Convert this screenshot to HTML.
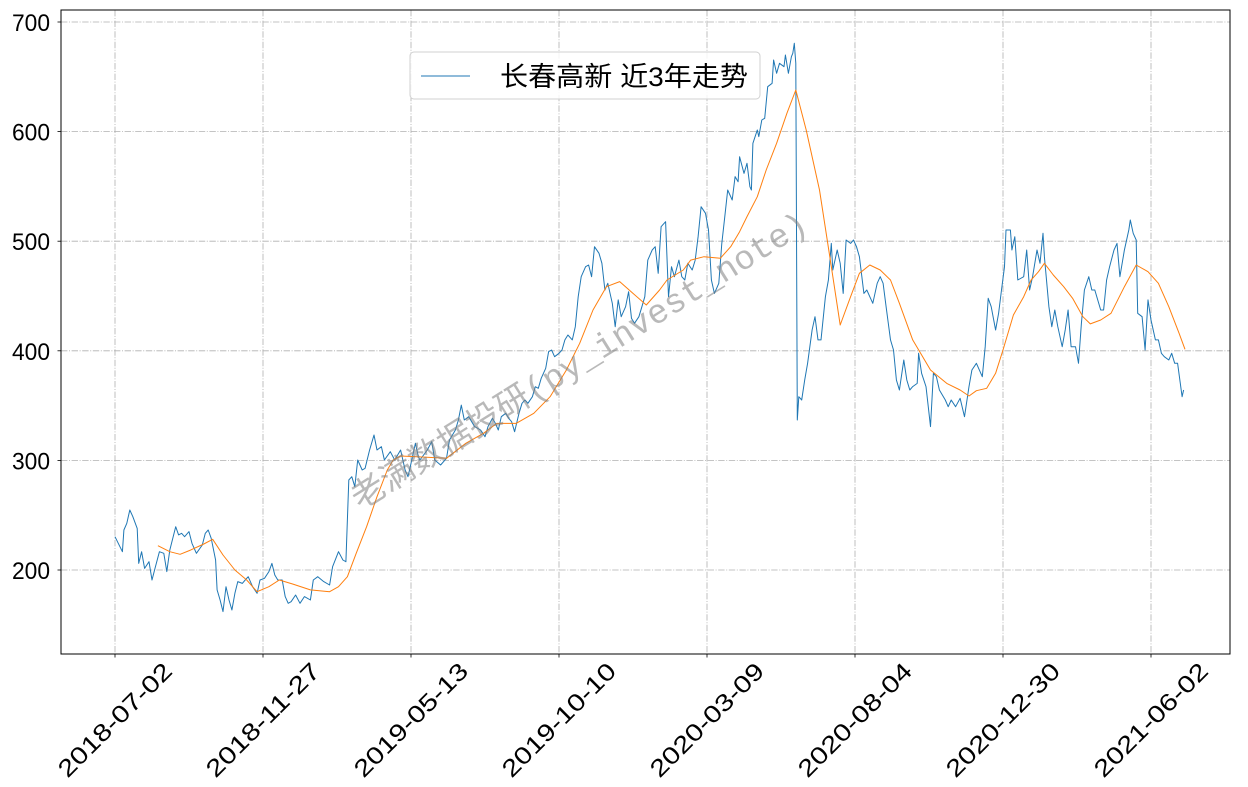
<!DOCTYPE html>
<html><head><meta charset="utf-8">
<style>
html,body{margin:0;padding:0;background:#fff;}
svg{display:block;}
text{font-family:"Liberation Sans","Noto Sans CJK SC",sans-serif;}
</style></head>
<body>
<svg id="chart" width="1248" height="787" viewBox="0 0 1248 787" xmlns="http://www.w3.org/2000/svg">
  <rect x="0" y="0" width="1248" height="787" fill="#fff"/>
  <g id="grid"></g>
  <g id="series"></g>
  <rect x="61" y="10" width="1169" height="644" fill="none" stroke="#000" stroke-width="1"/>
  <g id="axes"></g>
  <text x="585" y="370" transform="rotate(-32 585 370)" text-anchor="middle" font-size="34" fill="#808080" fill-opacity="0.55" style="font-family:'Liberation Mono','Noto Sans CJK SC',monospace">老满数据投研(py_invest_note)</text>
  <g>
    <rect x="410" y="52" width="350" height="47" rx="4" fill="#fff" fill-opacity="0.85" stroke="#d0d0d0"/>
    <line x1="421" y1="76" x2="470" y2="76" stroke="#1f77b4" stroke-width="1"/>
    <text x="500" y="86" font-size="27" textLength="248" lengthAdjust="spacingAndGlyphs" fill="#000">长春高新 近3年走势</text>
  </g>
</svg>
<script>
const priceIdx = [0,5,6,8,10,12,15,16,18,20,23,25,27,30,33,35,37,41,43,45,47,50,52,55,59,61,63,65,68,69,71,73,75,77,79,81,83,86,88,90,93,96,98,101,104,106,108,110,113,115,117,119,122,125,128,132,134,137,141,145,147,151,154,156,158,160,162,164,167,169,172,175,177,180,182,186,189,193,196,198,200,203,205,
206,211,214,216,220,224,226,230,232,234,236,239,241,243,247,250,252,255,257,259,261,264,266,268,270,273,275,277,279,282,284,286,288,291,293,295,297,300,302,304,306,309,311,313,315,318,320,322,324,327,329,331,333,336,338,340,342,345,347,349,351,354,356,358,360,363,365,367,369,372,374,376,378,381,383,385,387,390,392,394,396,399,401,403,405,408,410,412,414,417,419,421,
422,425,427,429,430,431,434,435,437,439,441,444,445,447,449,452,453,455,457,458,459,460,461,462,464,466,468,471,473,475,477,480,482,484,485,488,490,492,494,497,499,501,503,506,508,510,512,515,517,519,521,524,526,528,530,
533,535,537,539,542,543,545,548,551,553,555,557,561,563,565,568,571,574,577,579,582,586,588,590,592,595,597,599,601,602,605,606,608,610,614,616,618,620,623,625,627,628,631,633,635,637,640,642,644,646,649,651,653,655,658,660,662,666,668,670,672,675,677,679,682,685,686,688,690,691,694,696,698,700,703,705,707,709,712,714,716,718,721,722];
const priceVal = [230.4,216.7,236.5,242.6,254.7,248.7,238,206,216.7,201.5,207.6,190.9,201.5,216.7,215.2,198.5,218.2,239.5,232,233.5,230.4,235,224.3,215.2,222.8,233.5,236.5,228.9,209.1,181.8,172.6,162,184.8,172.6,163.5,178.7,189.4,187.8,190.9,193.9,184.8,178.7,190.9,192.4,198.5,206,195.4,190.9,190.9,175.7,169.6,171.1,177.2,169.6,175.7,172.6,190.9,193.9,189.4,186.3,203,216.7,209.1,207.6,282.1,285.1,276,300.4,291.2,292.8,309.5,323.2,309.5,312.5,300.4,307.9,300.4,309.5,291.2,285.1,297.3,315.6,303.4,
300.4,309.5,317.1,300.4,295.8,301.9,318.6,327.7,336.9,350.5,336.9,339.9,335.3,330.8,327.7,321.6,330.8,338.4,333.8,327.7,339.9,343,338.4,335.3,326.2,343,352.1,355.1,352.1,358.1,367.2,365.8,374.9,384,399.2,400.7,394.6,397.7,400.7,409.9,414.4,409.9,422,449.4,467.6,476.7,478.3,467.6,495,489,479.8,455.5,461.6,443.3,422,446.4,431.1,440.2,453.9,429.6,425.1,431.1,440.2,449.4,482.8,492,495,470.7,513.2,517.8,449.4,476.7,467.6,482.8,467.6,464.6,479.8,473.7,482.8,504.1,531.5,525.5,510.2,464.6,452.4,461.6,498,522.4,546.7,537.6,558.9,554.3,
577.1,561.9,571.1,549.7,546.7,589.3,601.5,595.4,610.6,612.1,641,644.1,665.3,653.2,662.3,659.2,669.9,653.2,668.3,671.4,680.6,662.3,336.9,358.1,355.1,373.4,388.6,419,431.1,409.9,409.9,449.4,464.6,498,473.7,492,479.8,452.4,501.1,498,501.1,495,485.9,452.4,455.5,449.4,443.3,461.6,467.6,461.6,440.2,409.9,400.7,373.4,364.2,
391.6,373.4,364.2,367.3,370.3,397.7,379.5,367.3,330.8,379.5,376.4,364.2,355.1,349,355.1,349,356.7,339.9,367.3,382.5,388.6,376.4,403.7,447.9,440.2,419,434.2,455.5,476.7,510.2,510.2,492,504.1,464.6,467.6,492,455.5,467.6,492,479.8,507.2,485.9,440.2,422,437.2,422,403.7,419,437.2,403.7,403.7,388.6,425.1,455.5,467.6,455.5,455.5,437.2,437.2,464.6,476.7,492,498,467.6,492,510.2,519.3,507.2,501.1,434.2,431.1,400.7,446.4,428.1,409.9,409.9,397.7,394.6,391.6,397.7,388.6,388.6,358.1,364.2];
const maIdx = [29,37,44,51,60,66,73,81,89,96,104,111,120,132,145,151,157,163,170,177,184,188,193,204,224,237,249,258,271,283,294,305,314,323,332,341,350,359,368,373,384,389,398,409,416,422,427,434,440,447,454,460,467,476,483,490,497,503,510,517,524,530,539,551,562,571,577,582,589,595,600,607,614,619,624,628,634,641,647,654,659,666,673,682,690,698,705,712,719,723];
const maVal = [222.2,216.7,214.3,218.2,223.7,228,213.7,200,190.9,180.2,184.8,190.9,187.2,181.8,180.2,184.8,193.9,215.2,239.5,266.9,291.2,300.4,304,303.4,301.9,315.6,324.7,333.8,333.8,343,358.1,382.5,406.8,437.2,458.5,463.1,452.4,441.8,455.5,464.6,473.7,482.8,485.9,484.4,495,508.7,522.4,540.6,565,589.3,616.7,638,601.5,546.7,485.9,423.5,449.4,470.7,478.3,473.7,464.6,443.3,409.9,382.5,370.3,364.2,358.8,363.6,365.8,379.5,400.7,432.7,449.4,464.6,472.2,479.8,469.2,458.5,447.9,431.1,424.5,428.1,434.2,458.5,478.3,472.2,461.6,440.2,416,401.4];
const yTicks = [200,300,400,500,600,700];
const xTickIdx = [0,100,200,300,400,500,600,700];
const xTickLabels = ["2018-07-02","2018-11-27","2019-05-13","2019-10-10","2020-03-09","2020-08-04","2020-12-30","2021-06-02"];

const NS = "http://www.w3.org/2000/svg";
function xScale(i){ return 115 + i*1.48; }
function yScale(v){ return 570 - (v-200)*1.096; }
function mk(tag, attrs, parent){
  const e = document.createElementNS(NS, tag);
  for (const k in attrs) e.setAttribute(k, attrs[k]);
  parent.appendChild(e);
  return e;
}
const grid = document.getElementById('grid');
const axes = document.getElementById('axes');
const series = document.getElementById('series');
const dash = "6.4,1.6,1,1.6";
yTicks.forEach(v => {
  const y = yScale(v);
  const g = mk('line', {x1:61, x2:1230, y1:y, y2:y, stroke:'#b0b0b0', 'stroke-width':0.8, 'stroke-dasharray':dash}, grid);
  
  
  const t = mk('line', {x1:57.5, x2:61, y1:y, y2:y, stroke:'#000', 'stroke-width':0.8}, axes);
  
  
  const l = mk('text', {x:50, y:y+9, 'text-anchor':'end', 'font-size':24, textLength:38, lengthAdjust:'spacingAndGlyphs', fill:'#000'}, axes);
  l.textContent = v;
  
  
});
xTickIdx.forEach((i, k) => {
  const x = xScale(i);
  const g = mk('line', {x1:x, x2:x, y1:10, y2:654, stroke:'#b0b0b0', 'stroke-width':0.8, 'stroke-dasharray':dash}, grid);
  
  
  const t = mk('line', {x1:x, x2:x, y1:654, y2:657.5, stroke:'#000', 'stroke-width':0.8}, axes);
  
  
  const cy = 720;
  const l = mk('text', {x:x, y:cy+8, 'text-anchor':'middle', 'font-size':24, fill:'#000', textLength:150, lengthAdjust:'spacingAndGlyphs', transform:'rotate(-45 '+x+' '+cy+')'}, axes);
  l.textContent = xTickLabels[k];
  
  
});
function pts(ix, vals){ return ix.map((i,k)=> xScale(i).toFixed(1)+','+yScale(vals[k]).toFixed(1)).join(' '); }
const blue = mk('polyline', {points:pts(priceIdx, priceVal), fill:'none', stroke:'#1f77b4', 'stroke-width':1, 'stroke-linejoin':'round'}, series);


const orange = mk('polyline', {points:pts(maIdx, maVal), fill:'none', stroke:'#ff7f0e', 'stroke-width':1, 'stroke-linejoin':'round'}, series);


</script>
</body></html>
